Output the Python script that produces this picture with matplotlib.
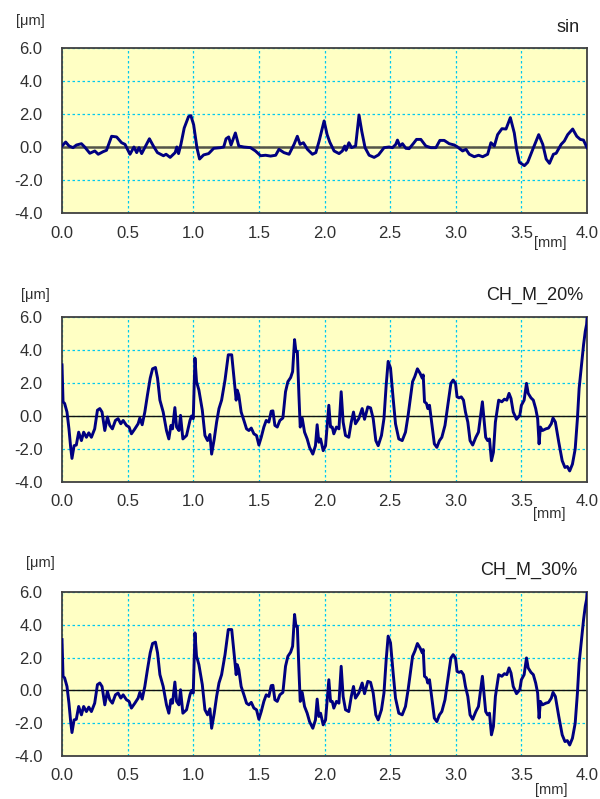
import matplotlib.pyplot as plt
import numpy as np

plt.rcParams['font.family'] = ['Liberation Sans', 'DejaVu Sans']

# profile "sin" (x in mm, height in um)
sin_x_mm = [0.000, 0.028, 0.054, 0.084, 0.110, 0.148, 0.173, 0.212, 0.250, 0.276,
            0.314, 0.339, 0.378, 0.416, 0.454, 0.480, 0.518, 0.548, 0.569, 0.587,
            0.607, 0.633, 0.666, 0.696, 0.727, 0.773, 0.793, 0.824, 0.862, 0.875,
            0.888, 0.906, 0.931, 0.964, 0.982, 1.003, 1.028, 1.048, 1.079, 1.117,
            1.156, 1.207, 1.232, 1.250, 1.270, 1.288, 1.321, 1.347, 1.385, 1.436,
            1.474, 1.513, 1.551, 1.589, 1.628, 1.653, 1.691, 1.730, 1.768, 1.793,
            1.814, 1.839, 1.870, 1.908, 1.934, 1.959, 1.997, 2.020, 2.040, 2.073,
            2.111, 2.136, 2.154, 2.164, 2.186, 2.206, 2.237, 2.263, 2.284, 2.309,
            2.340, 2.378, 2.411, 2.454, 2.492, 2.518, 2.543, 2.556, 2.574, 2.594,
            2.620, 2.645, 2.676, 2.701, 2.734, 2.772, 2.810, 2.849, 2.879, 2.912,
            2.950, 2.989, 3.014, 3.052, 3.078, 3.103, 3.141, 3.174, 3.205, 3.243,
            3.268, 3.294, 3.319, 3.352, 3.383, 3.416, 3.446, 3.464, 3.485, 3.523,
            3.548, 3.587, 3.632, 3.663, 3.689, 3.714, 3.744, 3.765, 3.803, 3.827,
            3.853, 3.891, 3.922, 3.949, 3.973, 4.000]
sin_um = [0.06, 0.30, 0.06, -0.04, 0.12, 0.20, 0.00, -0.38, -0.24, -0.44,
          -0.28, -0.20, 0.65, 0.61, 0.26, 0.16, -0.44, 0.00, -0.34, -0.04,
          -0.40, 0.00, 0.50, 0.06, -0.34, -0.53, -0.44, -0.63, -0.34, 0.00,
          -0.40, 0.16, 1.15, 1.84, 1.90, 1.35, -0.04, -0.73, -0.48, -0.40,
          -0.08, -0.04, 0.00, 0.50, 0.61, 0.12, 0.85, 0.06, 0.00, -0.04,
          -0.24, -0.53, -0.50, -0.55, -0.50, -0.14, -0.34, -0.44, 0.16, 0.65,
          0.16, 0.26, -0.14, -0.44, -0.34, 0.36, 1.58, 0.75, 0.30, -0.24,
          -0.40, -0.24, 0.06, -0.20, 0.26, -0.04, 0.06, 1.94, 0.95, -0.04,
          -0.50, -0.63, -0.48, -0.04, 0.00, -0.04, 0.16, 0.42, 0.06, 0.20,
          -0.08, -0.10, 0.20, 0.46, 0.46, 0.06, -0.04, -0.04, 0.40, 0.40,
          0.20, 0.12, 0.00, -0.24, -0.14, -0.44, -0.59, -0.50, -0.59, -0.44,
          0.26, 0.06, 0.75, 1.11, 1.09, 1.78, 0.85, -0.14, -0.93, -1.13,
          -0.93, -0.14, 0.75, 0.16, -0.73, -0.99, -0.44, -0.38, 0.16, 0.36,
          0.75, 1.09, 0.65, 0.46, 0.42, -0.04]

# profiles "CH_M_20%" and "CH_M_30%" (identical in the reference)
ch_x_mm = [0.000, 0.008, 0.020, 0.038, 0.053, 0.066, 0.076, 0.092, 0.109, 0.127,
           0.148, 0.165, 0.186, 0.204, 0.224, 0.249, 0.270, 0.288, 0.305, 0.326,
           0.346, 0.364, 0.384, 0.407, 0.427, 0.448, 0.466, 0.491, 0.511, 0.529,
           0.555, 0.580, 0.593, 0.611, 0.631, 0.651, 0.672, 0.690, 0.712, 0.728,
           0.746, 0.771, 0.796, 0.814, 0.830, 0.842, 0.860, 0.873, 0.891, 0.903,
           0.921, 0.949, 0.975, 0.987, 1.000, 1.013, 1.025, 1.043, 1.069, 1.089,
           1.109, 1.127, 1.140, 1.160, 1.178, 1.196, 1.216, 1.242, 1.267, 1.293,
           1.314, 1.327, 1.335, 1.347, 1.365, 1.386, 1.406, 1.424, 1.442, 1.462,
           1.482, 1.500, 1.518, 1.538, 1.556, 1.576, 1.594, 1.607, 1.622, 1.640,
           1.660, 1.683, 1.703, 1.721, 1.742, 1.757, 1.772, 1.782, 1.793, 1.805,
           1.815, 1.830, 1.848, 1.868, 1.886, 1.911, 1.931, 1.944, 1.957, 1.970,
           1.990, 2.008, 2.033, 2.046, 2.059, 2.071, 2.091, 2.110, 2.127, 2.142,
           2.160, 2.185, 2.204, 2.221, 2.236, 2.261, 2.287, 2.305, 2.330, 2.351,
           2.371, 2.391, 2.409, 2.434, 2.453, 2.470, 2.485, 2.503, 2.523, 2.541,
           2.566, 2.592, 2.617, 2.637, 2.671, 2.688, 2.708, 2.728, 2.745, 2.752,
           2.762, 2.777, 2.787, 2.800, 2.819, 2.837, 2.856, 2.876, 2.894, 2.918,
           2.943, 2.963, 2.980, 2.998, 3.010, 3.025, 3.042, 3.059, 3.074, 3.092,
           3.109, 3.129, 3.153, 3.173, 3.193, 3.203, 3.215, 3.228, 3.243, 3.257,
           3.272, 3.287, 3.302, 3.327, 3.351, 3.371, 3.389, 3.406, 3.421, 3.438,
           3.463, 3.488, 3.500, 3.521, 3.539, 3.552, 3.573, 3.591, 3.609, 3.624,
           3.635, 3.645, 3.661, 3.686, 3.707, 3.728, 3.741, 3.759, 3.785, 3.811,
           3.832, 3.850, 3.868, 3.889, 3.910, 3.927, 3.940, 3.961, 3.974, 3.987,
           3.997, 4.000]
ch_m_20_um = [3.10, 0.86, 0.76, 0.24, -0.78, -1.90, -2.57, -1.80, -1.76, -0.98,
              -1.49, -0.98, -1.29, -1.02, -1.29, -0.78, 0.35, 0.45, 0.24, -0.88,
              -0.06, -0.57, -0.78, -0.27, -0.16, -0.47, -0.27, -0.57, -0.67, -1.08,
              -0.78, -0.47, -0.12, -0.53, 0.24, 1.27, 2.29, 2.86, 2.94, 2.29,
              0.96, 0.24, -0.88, -1.39, -0.57, -0.78, 0.51, -0.67, -0.88, 0.04,
              -1.39, -1.18, -0.27, 0.00, -0.16, 3.51, 2.08, 1.57, 0.35, -1.18,
              -1.49, -1.12, -2.31, -1.39, -0.37, 0.45, 0.96, 2.18, 3.71, 3.71,
              1.98, 0.96, 1.57, 1.27, 0.24, -0.27, -0.78, -0.88, -0.73, -1.08,
              -1.18, -1.76, -1.29, -0.67, -0.27, -0.37, 0.29, 0.31, -0.57, -0.67,
              -0.27, -0.12, 1.47, 2.08, 2.33, 2.69, 4.63, 3.92, 3.92, 1.27,
              -0.67, -0.12, -0.98, -1.39, -1.90, -2.31, -1.80, -0.53, -1.59, -1.39,
              -2.10, -1.80, 0.65, -0.67, -0.67, -1.08, -0.67, -0.78, 1.47, -0.37,
              -1.18, -1.29, -0.37, 0.24, -0.47, -0.16, 0.45, -0.20, 0.55, 0.49,
              -0.16, -1.49, -1.80, -1.18, -0.16, 1.88, 3.31, 2.90, 1.06, -0.47,
              -1.39, -1.49, -0.98, 0.04, 2.08, 2.39, 2.86, 2.59, 2.29, 2.49,
              0.86, 0.76, 0.45, 0.65, -0.57, -1.69, -1.90, -1.49, -1.29, -0.57,
              0.86, 1.98, 2.18, 1.98, 1.16, 1.10, 1.16, 0.96, 0.24, -0.37,
              -1.49, -1.76, -1.29, -0.98, 0.24, 0.86, -0.16, -1.29, -1.49, -1.39,
              -2.71, -2.20, -0.37, 0.96, 0.86, 1.02, 0.96, 1.37, 1.06, 0.24,
              -0.20, 0.04, 0.65, 0.96, 1.98, 1.37, 1.10, 0.96, 0.45, -0.16,
              -1.69, -0.67, -0.88, -0.78, -0.73, -0.47, -0.12, -0.37, -1.59, -2.71,
              -3.12, -3.06, -3.33, -2.92, -2.00, -0.16, 1.67, 3.31, 4.33, 5.14,
              5.55, 5.90]
ch_m_30_um = list(ch_m_20_um)

x_ticks = [0.0, 0.5, 1.0, 1.5, 2.0, 2.5, 3.0, 3.5, 4.0]
y_ticks = [-4.0, -2.0, 0.0, 2.0, 4.0, 6.0]

W, H = 600, 799
fig = plt.figure(figsize=(W / 100, H / 100), dpi=100)


def px(x, y):
    return x / W, 1 - y / H


def panel(top, bottom, xs, ys, title, title_y, title_right, um_xy, mm_xy, zero_lw, zero_col):
    ax = fig.add_axes([62 / W, 1 - bottom / H, 525 / W, (bottom - top) / H])
    ax.set_facecolor('#FFFFC4')
    ax.set_xlim(0, 4)
    ax.set_ylim(-4, 6)
    ax.set_xticks(x_ticks)
    ax.set_yticks(y_ticks)
    ax.set_xticklabels([f'{v:.1f}' for v in x_ticks])
    ax.set_yticklabels([f'{v:.1f}' for v in y_ticks])
    ax.grid(True, color='#00C8F0', ls=(0, (2, 2)), lw=0.9)
    ax.set_axisbelow(True)
    ax.axhline(0, color=zero_col, lw=zero_lw, zorder=2)
    ax.plot(xs, ys, color='#000080', lw=2.1, zorder=3, solid_joinstyle='round')
    ax.tick_params(axis='both', length=0, labelsize=12, colors='#303030')
    ax.tick_params(axis='y', pad=14)
    ax.tick_params(axis='x', pad=9)
    for s in ax.spines.values():
        s.set_color('#404040')
        s.set_linewidth(1.3)
    fig.text(*px(title_right, title_y), title, ha='right', va='center', fontsize=13, color='#202020')
    fig.text(*px(*um_xy), '[μm]', ha='left', va='center', fontsize=10.5, color='#303030')
    fig.text(*px(*mm_xy), '[mm]', ha='left', va='center', fontsize=10.5, color='#303030')
    return ax


panel(48, 213, sin_x_mm, sin_um, 'sin', 27, 580, (16, 21), (534, 243), 1.8, '#555548')
panel(317, 482, ch_x_mm, ch_m_20_um, 'CH_M_20%', 295, 583, (21, 295), (533, 514), 1.0, '#101010')
panel(592, 756, ch_x_mm, ch_m_30_um, 'CH_M_30%', 570, 577, (26, 563), (535, 790), 1.0, '#101010')

fig.savefig('out.png', dpi=100)
